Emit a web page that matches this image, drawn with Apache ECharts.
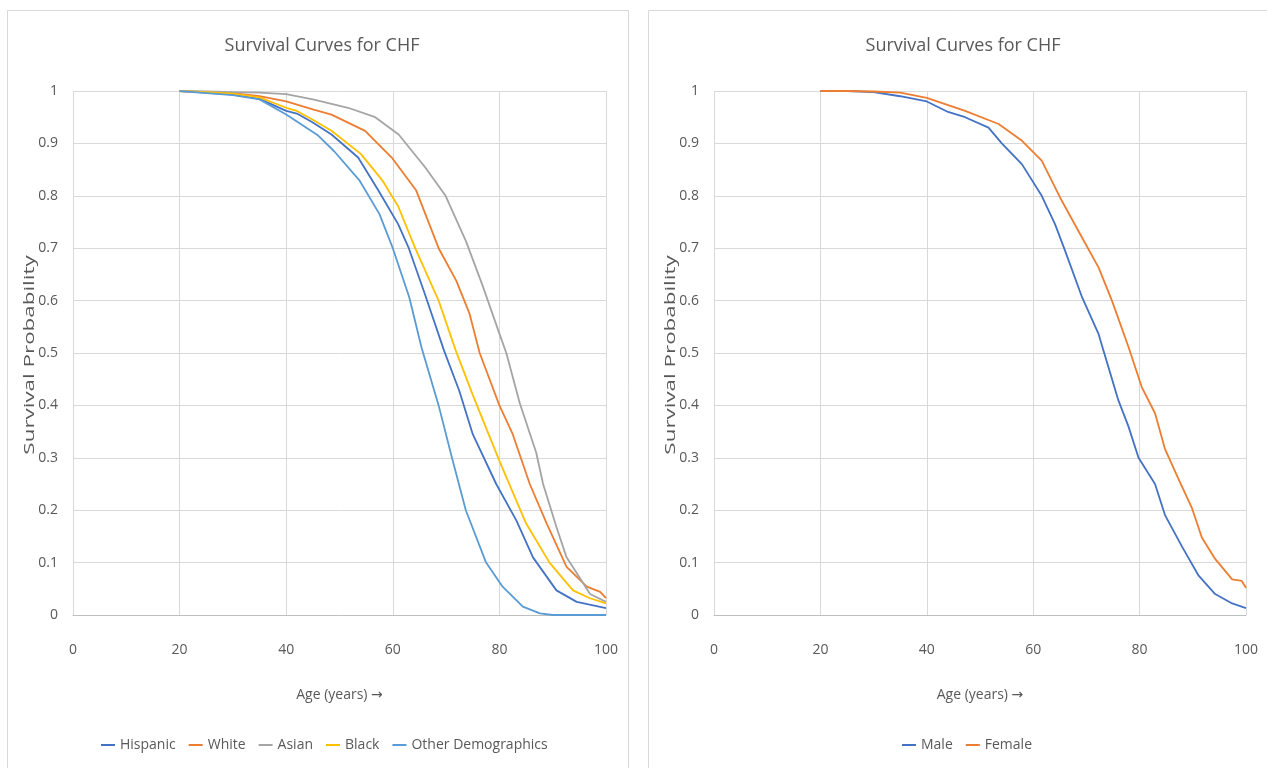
<!DOCTYPE html>
<html>
<head>
<meta charset="utf-8">
<title>Survival Curves for CHF</title>
<script src="https://cdn.jsdelivr.net/npm/echarts@6/dist/echarts.min.js"></script>
<style>
    html, body { margin: 0; padding: 0; background: #fff; }
    #main { width: 1267px; height: 768px; }
</style>
</head>
<body>
<div id="main"></div>
<script>
// [age, survival probability]
var hispanic = [[20, 1], [25, 0.997], [30, 0.993], [35, 0.985], [40, 0.962], [42, 0.957], [45, 0.94], [48.5, 0.917], [53.5, 0.873], [57.3, 0.81], [61, 0.746], [63, 0.70], [66, 0.613], [69.6, 0.505], [72.5, 0.427], [75, 0.345], [79.4, 0.25], [83.2, 0.18], [86.3, 0.11], [90.7, 0.047], [94.5, 0.025], [100, 0.013]];
var white = [[20, 1], [25, 0.998], [30, 0.996], [35, 0.99], [40, 0.98], [45, 0.965], [48.5, 0.955], [54.8, 0.924], [59.8, 0.873], [64.4, 0.81], [68.6, 0.70], [71.9, 0.638], [74.4, 0.575], [76.3, 0.50], [80, 0.40], [82.5, 0.345], [85.7, 0.25], [88.9, 0.174], [92.6, 0.092], [96.4, 0.054], [98.9, 0.044], [100, 0.032]];
var asian = [[20, 1], [25, 0.999], [30, 0.998], [35, 0.997], [40, 0.994], [45, 0.984], [51.6, 0.968], [56.7, 0.95], [61.1, 0.917], [66.1, 0.854], [69.9, 0.80], [73.7, 0.714], [76.8, 0.63], [80, 0.537], [81.3, 0.50], [83.8, 0.405], [86.9, 0.31], [88.2, 0.25], [90.7, 0.168], [92.6, 0.11], [94.5, 0.08], [97, 0.04], [100, 0.025]];
var black = [[20, 1], [25, 0.998], [30, 0.995], [35, 0.988], [40, 0.968], [42, 0.962], [45, 0.945], [48.5, 0.924], [54, 0.88], [58, 0.83], [61, 0.78], [64.2, 0.70], [68.6, 0.60], [71.8, 0.505], [75, 0.42], [80, 0.294], [85, 0.175], [89.4, 0.10], [93.8, 0.047], [97, 0.032], [100, 0.022]];
var other = [[20, 1], [25, 0.996], [30, 0.992], [35, 0.984], [40, 0.955], [43, 0.935], [46, 0.915], [49, 0.885], [53.7, 0.83], [57.5, 0.765], [60, 0.70], [63.1, 0.606], [65.4, 0.51], [68.6, 0.40], [71.1, 0.30], [73.7, 0.20], [77.5, 0.10], [80.6, 0.054], [84.4, 0.016], [87.6, 0.003], [90, 0], [100, 0]];

var male = [[20, 1], [25, 1], [30, 0.998], [35, 0.99], [40, 0.98], [44, 0.96], [47.2, 0.95], [51.6, 0.93], [54.1, 0.90], [57.9, 0.86], [61.6, 0.80], [64.1, 0.746], [66, 0.695], [69.2, 0.606], [72.3, 0.536], [73.2, 0.505], [76, 0.41], [77.9, 0.36], [79.8, 0.30], [82.9, 0.25], [84.8, 0.19], [88, 0.13], [91.1, 0.075], [94.2, 0.04], [97.4, 0.022], [100, 0.013]];
var female = [[20, 1], [25, 1], [30, 0.999], [35, 0.997], [40, 0.987], [47.2, 0.962], [53.5, 0.937], [57.9, 0.905], [61.6, 0.867], [65.4, 0.79], [69.2, 0.72], [72.3, 0.663], [74.8, 0.60], [77.9, 0.512], [80.4, 0.435], [82.9, 0.385], [84.8, 0.316], [87.3, 0.26], [89.8, 0.205], [91.7, 0.148], [94.2, 0.107], [97.4, 0.068], [99.2, 0.065], [100, 0.052]];

var raceNames = ['Hispanic', 'White', 'Asian', 'Black', 'Other Demographics'];
var raceData = [hispanic, white, asian, black, other];
var raceColors = ['#4472C4', '#ED7D31', '#A5A5A5', '#FFC000', '#5B9BD5'];
var sexNames = ['Male', 'Female'];
var sexData = [male, female];
var sexColors = ['#4472C4', '#ED7D31'];

var chartTitle = 'Survival Curves for CHF';
var yName = 'Survival Probability';

var font = "'Open Sans', sans-serif";
var textColor = '#595959';
var gridColor = '#d9d9d9';

function makeX(idx) {
    return {
        type: 'value', gridIndex: idx, min: 0, max: 100, interval: 20,
        name: 'Age (years) {a|\u2192}', nameLocation: 'middle', nameGap: 73,
        nameTextStyle: {
            color: textColor, fontFamily: font, fontSize: 14,
            rich: { a: { color: textColor, fontFamily: 'DejaVu Sans', fontSize: 14 } }
        },
        axisLine: { lineStyle: { color: '#bfbfbf' } },
        axisTick: { show: false },
        axisLabel: { color: textColor, fontFamily: font, fontSize: 14, margin: 28 },
        splitLine: { lineStyle: { color: gridColor } }
    };
}

function makeY(idx) {
    return {
        type: 'value', gridIndex: idx, min: 0, max: 1, interval: 0.1,
        axisLine: { show: false },
        axisTick: { show: false },
        axisLabel: { color: textColor, fontFamily: font, fontSize: 14, margin: 15 },
        splitLine: { lineStyle: { color: gridColor } }
    };
}

// rotated y name, stretched along its length like the source image
function yNameText(x) {
    return {
        type: 'text', x: x, y: 355, rotation: Math.PI / 2, scaleX: 1.6, silent: true,
        style: { text: yName, fill: textColor, font: '14px ' + font, align: 'center', verticalAlign: 'middle' }
    };
}

var series = [];
raceNames.forEach(function (n, i) {
    series.push({
        name: n, type: 'line', xAxisIndex: 0, yAxisIndex: 0, data: raceData[i],
        showSymbol: false, color: raceColors[i], lineStyle: { width: 1.8 }
    });
});
sexNames.forEach(function (n, i) {
    series.push({
        name: n, type: 'line', xAxisIndex: 1, yAxisIndex: 1, data: sexData[i],
        showSymbol: false, color: sexColors[i], lineStyle: { width: 1.8 }
    });
});

var legendBase = {
    icon: 'rect', itemWidth: 14, itemHeight: 2, itemGap: 13, top: 733,
    textStyle: { color: textColor, fontFamily: font, fontSize: 14 }
};

var option = {
    backgroundColor: '#fff',
    animation: false,
    title: [
        { text: chartTitle, left: 317, top: 32, textAlign: 'center', textStyle: { color: textColor, fontFamily: font, fontSize: 18, fontWeight: 'normal' } },
        { text: chartTitle, left: 958, top: 32, textAlign: 'center', textStyle: { color: textColor, fontFamily: font, fontSize: 18, fontWeight: 'normal' } }
    ],
    legend: [
        Object.assign({ data: raceNames }, legendBase, { left: 96 }),
        Object.assign({ data: sexNames }, legendBase, { left: 897 })
    ],
    grid: [
        { left: 73, top: 91, width: 533, height: 524 },
        { left: 714, top: 91, width: 532, height: 524 }
    ],
    xAxis: [makeX(0), makeX(1)],
    yAxis: [makeY(0), makeY(1)],
    graphic: [
        { type: 'rect', shape: { x: 7.5, y: 10.5, width: 621, height: 780 }, style: { fill: 'none', stroke: gridColor }, silent: true },
        { type: 'rect', shape: { x: 648.5, y: 10.5, width: 640, height: 780 }, style: { fill: 'none', stroke: gridColor }, silent: true },
        yNameText(30),
        yNameText(671)
    ],
    series: series
};

var chart = echarts.init(document.getElementById('main'));
chart.setOption(option);
</script>
</body>
</html>
